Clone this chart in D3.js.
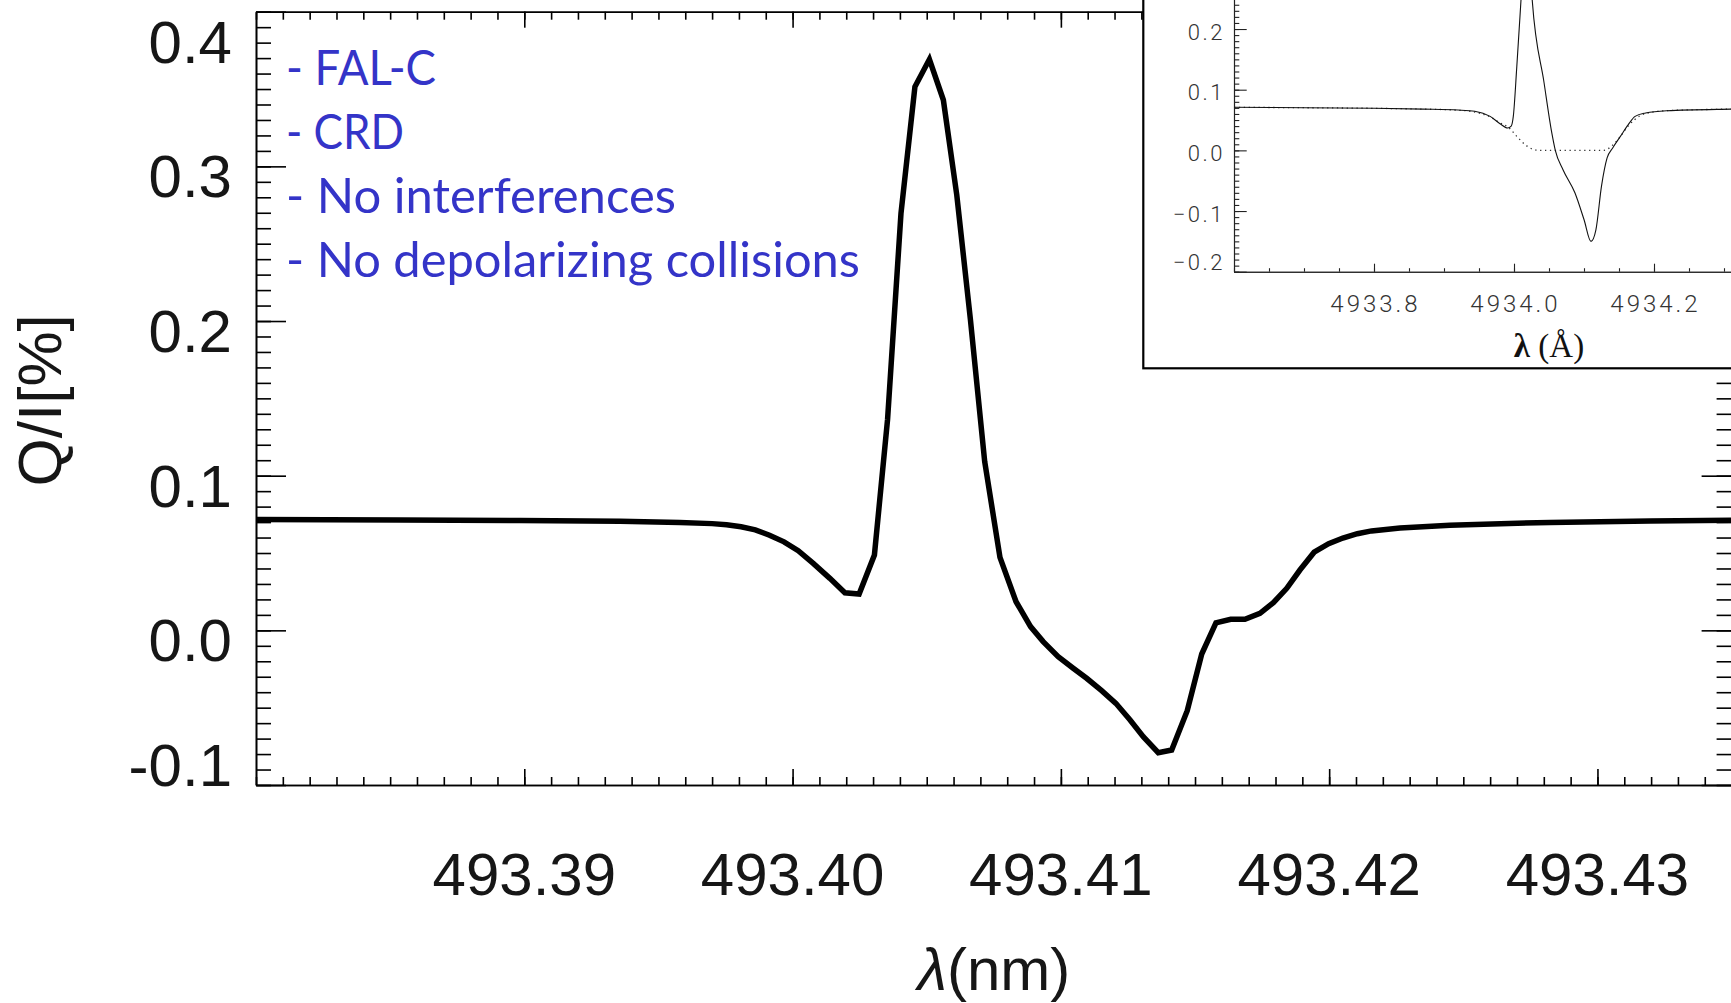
<!DOCTYPE html>
<html>
<head>
<meta charset="utf-8">
<script src="https://cdn.jsdelivr.net/npm/d3@7"></script>
<style>
  html, body { margin: 0; padding: 0; background: #fff; overflow: hidden; }
  svg { display: block; }
</style>
</head>
<body>
<svg id="chart" width="1731" height="1003"></svg>
<script>
// ---- Main profile: Q/I (%) versus wavelength (nm) ----
const wavelengthNm = [
  493.38000, 493.38537, 493.38984, 493.39357, 493.39580, 493.39700,
  493.39754, 493.39808, 493.39861, 493.39914, 493.39968, 493.40021,
  493.40077, 493.40139, 493.40195, 493.40248, 493.40305, 493.40354,
  493.40404, 493.40456, 493.40510, 493.40562, 493.40612, 493.40663,
  493.40716, 493.40773, 493.40833, 493.40887, 493.40934, 493.40990,
  493.41046, 493.41096, 493.41152, 493.41205, 493.41258, 493.41307,
  493.41363, 493.41413, 493.41471, 493.41525, 493.41578, 493.41633,
  493.41686, 493.41742, 493.41792, 493.41842, 493.41891, 493.41944,
  493.41998, 493.42051, 493.42105, 493.42158, 493.42264, 493.42450,
  493.42823, 493.43196, 493.43500
];
const qOverI = [
  0.0716, 0.0714, 0.0710, 0.0705, 0.0698, 0.0690,
  0.0683, 0.0670, 0.0650, 0.0615, 0.0572, 0.0515,
  0.0433, 0.0336, 0.0243, 0.0235, 0.0487, 0.1363,
  0.2695, 0.3515, 0.3692, 0.3429, 0.2815, 0.2007,
  0.1092, 0.0472, 0.0185, 0.0024, -0.0073, -0.0170,
  -0.0245, -0.0310, -0.0390, -0.0472, -0.0580, -0.0688,
  -0.0791, -0.0774, -0.0520, -0.0153, 0.0049, 0.0071,
  0.0071, 0.0110, 0.0179, 0.0272, 0.0390, 0.0505,
  0.0560, 0.0597, 0.0625, 0.0643, 0.0662, 0.0680,
  0.0698, 0.0707, 0.0712
];

const xTickValues = [493.39, 493.40, 493.41, 493.42, 493.43];
const xTickLabels = ["493.39", "493.40", "493.41", "493.42", "493.43"];
const yTickValues = [-0.1, 0.0, 0.1, 0.2, 0.3, 0.4];
const yTickLabels = ["-0.1", "0.0", "0.1", "0.2", "0.3", "0.4"];

const modelNotes = [
  "- FAL-C",
  "- CRD",
  "- No interferences",
  "- No depolarizing collisions"
];

// ---- Inset: full calculation (solid) and without the core term (dotted), wavelength in Å ----
const insetWavelengthA = [
  4933.600, 4933.700, 4933.800, 4933.870, 4933.920, 4933.944, 4933.966,
  4933.980, 4933.991, 4933.996, 4933.999, 4934.004, 4934.010, 4934.018,
  4934.026, 4934.043, 4934.054, 4934.059, 4934.070, 4934.087, 4934.100,
  4934.110, 4934.117, 4934.125, 4934.133, 4934.141, 4934.152, 4934.163,
  4934.173, 4934.188, 4934.218, 4934.310, 4934.500
];
const insetQ = [
  0.0710, 0.0703, 0.0693, 0.0680, 0.0665, 0.0645, 0.0560,
  0.0440, 0.0369, 0.0400, 0.0560, 0.1380, 0.2480, 0.4000,
  0.2480, 0.1110, 0.0287, 0.0000, -0.0320, -0.0700, -0.1140,
  -0.1500, -0.1310, -0.0590, -0.0125, 0.0040, 0.0230, 0.0420,
  0.0560, 0.0617, 0.0654, 0.0680, 0.0700
];
const insetDottedWavelengthA = [
  4933.600, 4933.700, 4933.800, 4933.870, 4933.920, 4933.944, 4933.966,
  4933.980, 4933.993, 4934.004, 4934.016, 4934.026, 4934.037, 4934.128,
  4934.139, 4934.150, 4934.163, 4934.180, 4934.196, 4934.218, 4934.310,
  4934.500
];
const insetDottedQ = [
  0.0710, 0.0703, 0.0693, 0.0680, 0.0662, 0.0632, 0.0550,
  0.0453, 0.0370, 0.0230, 0.0094, 0.0023, 0.0000, 0.0000,
  0.0066, 0.0200, 0.0400, 0.0570, 0.0627, 0.0654, 0.0680,
  0.0700
];
const insetXTickValues = [4933.8, 4934.0, 4934.2];
const insetXTickLabels = ["4933.8", "4934.0", "4934.2"];
const insetYTickValues = [-0.2, -0.1, 0.0, 0.1, 0.2];
const insetYTickLabels = ["\u22120.2", "\u22120.1", "0.0", "0.1", "0.2"];

// ---------------------------------------------------------------------------
const svg = d3.select("#chart");
const W = 1731, H = 1003;
const sansFont = "'Liberation Sans', Arial, Helvetica, sans-serif";

// plot frame
const frame = { left: 256, right: 1731.6, top: 11.7, bottom: 785 };
const x = d3.scaleLinear().domain([493.38, 493.435]).range([frame.left, frame.right]);
const y = d3.scaleLinear().domain([-0.1, 0.4]).range([frame.bottom, frame.top]);

svg.append("rect").attr("width", W).attr("height", H).attr("fill", "#fff");

const frameStroke = 1.6;
const xMinor = x.ticks(55);
const yMinor = y.ticks(50);

function styleAxis(g, width, color) {
  g.selectAll("path.domain").attr("stroke", color).attr("stroke-width", width);
  g.selectAll(".tick line").attr("stroke", color).attr("stroke-width", width);
  g.selectAll(".tick text").remove();
}

// bottom / top axes: ticks point into the plot
[[d3.axisBottom, frame.bottom], [d3.axisTop, frame.top]].forEach(([mk, pos]) => {
  svg.append("g").attr("transform", `translate(0,${pos})`)
    .call(mk(x).tickValues(xMinor).tickSize(-8).tickSizeOuter(0).tickFormat(""))
    .call(g => styleAxis(g, frameStroke, "#000"));
  svg.append("g").attr("transform", `translate(0,${pos})`)
    .call(mk(x).tickValues(xTickValues).tickSize(-16).tickSizeOuter(0).tickFormat(""))
    .call(g => styleAxis(g, frameStroke, "#000"));
});
// left / right axes
[[d3.axisLeft, frame.left], [d3.axisRight, frame.right]].forEach(([mk, pos]) => {
  svg.append("g").attr("transform", `translate(${pos},0)`)
    .call(mk(y).tickValues(yMinor).tickSize(-15).tickSizeOuter(0).tickFormat(""))
    .call(g => styleAxis(g, frameStroke, "#000"));
  svg.append("g").attr("transform", `translate(${pos},0)`)
    .call(mk(y).tickValues(yTickValues).tickSize(-30).tickSizeOuter(0).tickFormat(""))
    .call(g => styleAxis(g, frameStroke, "#000"));
});

// y tick labels (kept inside the frame height)
svg.append("g").selectAll("text").data(yTickValues).join("text")
  .attr("x", 232)
  .attr("y", d => Math.min(Math.max(y(d) + 31, 63), 786))
  .attr("text-anchor", "end")
  .attr("font-family", sansFont).attr("font-size", 60).attr("fill", "#161616")
  .text((d, i) => yTickLabels[i]);

// x tick labels
svg.append("g").selectAll("text").data(xTickValues).join("text")
  .attr("x", d => x(d)).attr("y", 895)
  .attr("text-anchor", "middle")
  .attr("font-family", sansFont).attr("font-size", 60).attr("fill", "#161616")
  .text((d, i) => xTickLabels[i]);

// axis titles
const xTitle = svg.append("text")
  .attr("x", (frame.left + frame.right) / 2).attr("y", 990)
  .attr("text-anchor", "middle")
  .attr("font-family", sansFont).attr("font-size", 60).attr("fill", "#161616");
xTitle.append("tspan").attr("font-style", "italic").text("λ");
xTitle.append("tspan").text("(nm)");

svg.append("text")
  .attr("transform", `translate(61,${(frame.top + frame.bottom) / 2 + 2}) rotate(-90)`)
  .attr("text-anchor", "middle")
  .attr("font-family", sansFont).attr("font-size", 62).attr("fill", "#161616")
  .text("Q/I[%]");

// model notes, each line set to its drawn width
const noteWidths = [150, 118, 390, 574];
svg.append("g").selectAll("text").data(modelNotes).join("text")
  .attr("x", 286).attr("y", (d, i) => 85 + i * 63.9)
  .attr("font-family", "Lato, 'Open Sans', sans-serif").attr("font-size", 48)
  .attr("fill", "#3434c8")
  .attr("textLength", (d, i) => noteWidths[i])
  .attr("lengthAdjust", "spacingAndGlyphs")
  .text(d => d);

// profile
const line = d3.line().x((d, i) => x(wavelengthNm[i])).y(d => y(d));
svg.append("path")
  .attr("d", line(qOverI))
  .attr("fill", "none").attr("stroke", "#000")
  .attr("stroke-width", 5.5).attr("stroke-linejoin", "miter").attr("stroke-miterlimit", 4);

// ---- inset panel ----
const inset = svg.append("g");
inset.append("rect")
  .attr("x", 1143.3).attr("y", -20).attr("width", 700).attr("height", 388.3)
  .attr("fill", "#fff").attr("stroke", "#000").attr("stroke-width", 2.2);

const iLeft = 1234, iRight = 1864, iBottom = 271.7;
const ix = d3.scaleLinear().domain([4933.6, 4934.5]).range([iLeft, iRight]);
const iy = d3.scaleLinear().domain([-0.2, 0.5]).range([iBottom, iBottom - 0.7 * 606.7]);
const insetStroke = 1.1, insetColor = "#222";

inset.append("g").attr("transform", `translate(0,${iBottom})`)
  .call(d3.axisBottom(ix).tickValues(d3.range(0, 19).map(k => 4933.6 + k * 0.05)).tickSize(-3.5).tickSizeOuter(0).tickFormat(""))
  .call(g => styleAxis(g, insetStroke, insetColor));
inset.append("g").attr("transform", `translate(0,${iBottom})`)
  .call(d3.axisBottom(ix).tickValues([4933.8, 4934.0, 4934.2, 4934.4]).tickSize(-8).tickSizeOuter(0).tickFormat(""))
  .call(g => styleAxis(g, insetStroke, insetColor));
inset.append("g").attr("transform", `translate(${iLeft},0)`)
  .call(d3.axisLeft(iy).tickValues(iy.ticks(70)).tickSize(-5.3).tickSizeOuter(0).tickFormat(""))
  .call(g => styleAxis(g, insetStroke, insetColor));
inset.append("g").attr("transform", `translate(${iLeft},0)`)
  .call(d3.axisLeft(iy).tickValues(iy.ticks(7)).tickSize(-12.7).tickSizeOuter(0).tickFormat(""))
  .call(g => styleAxis(g, insetStroke, insetColor));

const thinFont = "Roboto, 'DejaVu Sans', sans-serif";
inset.append("g").selectAll("text").data(insetYTickValues).join("text")
  .attr("x", 1225).attr("y", d => Math.min(iy(d) + 10.5, 270))
  .attr("text-anchor", "end")
  .attr("font-family", thinFont).attr("font-weight", 300).attr("font-size", 22)
  .attr("letter-spacing", 2.5).attr("fill", "#333")
  .text((d, i) => insetYTickLabels[i]);
inset.append("g").selectAll("text").data(insetXTickValues).join("text")
  .attr("x", d => ix(d) + 1.5).attr("y", 312)
  .attr("text-anchor", "middle")
  .attr("font-family", thinFont).attr("font-weight", 300).attr("font-size", 24)
  .attr("letter-spacing", 3).attr("fill", "#333")
  .text((d, i) => insetXTickLabels[i]);

const iTitle = inset.append("text")
  .attr("x", (iLeft + iRight) / 2).attr("y", 357)
  .attr("text-anchor", "middle")
  .attr("font-family", "'Liberation Serif', 'Times New Roman', serif").attr("font-size", 33)
  .attr("fill", "#111");
iTitle.append("tspan").attr("font-weight", "bold").text("λ");
iTitle.append("tspan").text(" (Å)");

const iLine = d3.line().x((d, i) => ix(insetWavelengthA[i])).y(d => iy(d)).curve(d3.curveMonotoneX);
const iDotLine = d3.line().x((d, i) => ix(insetDottedWavelengthA[i])).y(d => iy(d)).curve(d3.curveMonotoneX);
inset.append("path").attr("d", iDotLine(insetDottedQ))
  .attr("fill", "none").attr("stroke", "#333").attr("stroke-width", 1.3)
  .attr("stroke-dasharray", "1.3,3.6");
inset.append("path").attr("d", iLine(insetQ))
  .attr("fill", "none").attr("stroke", "#111").attr("stroke-width", 1.1);
</script>
</body>
</html>
